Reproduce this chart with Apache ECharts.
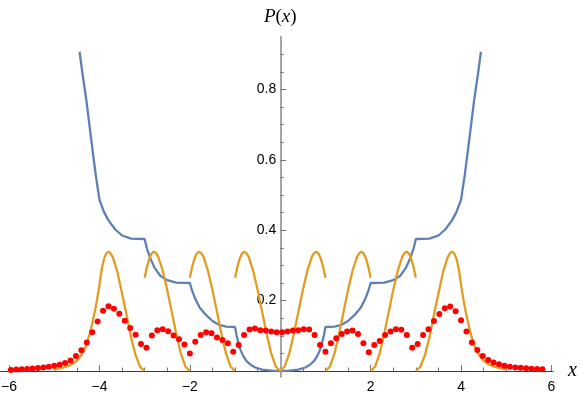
<!DOCTYPE html>
<html>
<head>
<meta charset="utf-8">
<script src="https://cdn.jsdelivr.net/npm/echarts@6/dist/echarts.min.js"></script>
<style>
html,body{margin:0;padding:0;background:#fff;}
#chart{width:581px;height:397px;}
</style>
</head>
<body>
<div id="chart"></div>
<script>
// ---- data ----
const xMajorTicks = [-6, -4, -2, 2, 4, 6];
const xMinorTicks = [-5.5,-5,-4.5,-3.5,-3,-2.5,-1.5,-1,-0.5,0.5,1,1.5,2.5,3,3.5,4.5,5,5.5];
const yMajorTicks = [0.2, 0.4, 0.6, 0.8];
const yMinorTicks = [0.05,0.1,0.15,0.25,0.3,0.35,0.45,0.5,0.55,0.65,0.7,0.75,0.85,0.9];

// blue curve
const blueX = [-4.44,-4.37,-4.29,-4.22,-4.15,-4.08,-4.0,-3.9,-3.8,-3.65,-3.5,-3.3,-3.0,-2.95,-2.88,-2.78,-2.65,-2.5,-2.3,-2.0,-1.95,-1.88,-1.78,-1.65,-1.5,-1.35,-1.2,-1.0,-0.97,-0.93,-0.88,-0.82,-0.75,-0.65,-0.55,-0.4,-0.2,0,
  0.2,0.4,0.55,0.65,0.75,0.82,0.88,0.93,0.97,1.0,1.2,1.35,1.5,1.65,1.78,1.88,1.95,2.0,2.3,2.5,2.65,2.78,2.88,2.95,3.0,3.3,3.5,3.65,3.8,3.9,4.0,4.08,4.15,4.22,4.29,4.37,4.44];
const blueY = [0.907,0.84,0.77,0.697,0.625,0.555,0.487,0.452,0.428,0.402,0.385,0.376,0.375,0.348,0.322,0.293,0.270,0.258,0.251,0.25,0.228,0.205,0.180,0.160,0.142,0.131,0.126,0.125,0.104,0.082,0.060,0.043,0.029,0.017,0.010,0.004,0.001,0,
  0.001,0.004,0.010,0.017,0.029,0.043,0.060,0.082,0.104,0.125,0.126,0.131,0.142,0.160,0.180,0.205,0.228,0.25,0.251,0.258,0.270,0.293,0.322,0.348,0.375,0.376,0.385,0.402,0.428,0.452,0.487,0.555,0.625,0.697,0.77,0.84,0.907];

// orange pieces
const orangeOuterLX = [-5.0,-4.9,-4.8,-4.7,-4.6,-4.5,-4.4,-4.3,-4.2,-4.1,-4.05,-4.0,-3.95,-3.9,-3.85,-3.8,-3.75,-3.7,-3.6,-3.5,-3.4,-3.3,-3.2,-3.1,-3.0];
const orangeOuterLY = [0.005,0.007,0.010,0.014,0.020,0.029,0.045,0.070,0.112,0.170,0.205,0.245,0.290,0.318,0.334,0.339,0.334,0.322,0.280,0.220,0.160,0.095,0.045,0.012,0];
const orangeP2LX = [-3.0,-2.95,-2.9,-2.85,-2.8,-2.75,-2.7,-2.6,-2.5,-2.4,-2.3,-2.2,-2.1,-2.0];
const orangeP2LY = [0.265,0.295,0.318,0.333,0.339,0.335,0.325,0.285,0.23,0.168,0.105,0.05,0.013,0];
const orangeP1LX = [-2.0,-1.95,-1.9,-1.85,-1.8,-1.75,-1.7,-1.6,-1.5,-1.4,-1.3,-1.2,-1.1,-1.0];
const orangeP1LY = [0.265,0.295,0.318,0.333,0.339,0.335,0.325,0.285,0.23,0.168,0.105,0.05,0.013,0];
const orangeCX = [-1.0,-0.95,-0.9,-0.85,-0.8,-0.75,-0.7,-0.6,-0.5,-0.4,-0.3,-0.2,-0.1,0,0.1,0.2,0.3,0.4,0.5,0.6,0.7,0.75,0.8,0.85,0.9,0.95,1.0];
const orangeCY = [0.265,0.295,0.318,0.333,0.339,0.335,0.325,0.285,0.23,0.168,0.105,0.05,0.013,0,0.013,0.05,0.105,0.168,0.23,0.285,0.325,0.335,0.339,0.333,0.318,0.295,0.265];
const orangeP1RX = [1.0,1.1,1.2,1.3,1.4,1.5,1.6,1.7,1.75,1.8,1.85,1.9,1.95,2.0];
const orangeP1RY = [0,0.013,0.05,0.105,0.168,0.23,0.285,0.325,0.335,0.339,0.333,0.318,0.295,0.265];
const orangeP2RX = [2.0,2.1,2.2,2.3,2.4,2.5,2.6,2.7,2.75,2.8,2.85,2.9,2.95,3.0];
const orangeP2RY = [0,0.013,0.05,0.105,0.168,0.23,0.285,0.325,0.335,0.339,0.333,0.318,0.295,0.265];
const orangeOuterRX = [3.0,3.1,3.2,3.3,3.4,3.5,3.6,3.7,3.75,3.8,3.85,3.9,3.95,4.0,4.05,4.1,4.2,4.3,4.4,4.5,4.6,4.7,4.8,4.9,5.0];
const orangeOuterRY = [0,0.012,0.045,0.095,0.160,0.220,0.280,0.322,0.334,0.339,0.334,0.318,0.290,0.245,0.205,0.170,0.112,0.070,0.045,0.029,0.020,0.014,0.010,0.007,0.005];

// red dots
const dotX = [-5.96,-5.84,-5.72,-5.60,-5.48,-5.36,-5.24,-5.12,-5.00,-4.88,-4.76,-4.64,-4.52,-4.40,-4.28,-4.16,-4.04,-3.92,-3.80,-3.68,-3.56,-3.44,-3.32,-3.20,-3.08,-2.96,-2.84,-2.72,-2.60,-2.48,-2.36,-2.24,-2.12,-2.00,-1.88,-1.76,-1.64,-1.52,-1.40,-1.28,-1.16,-1.04,-0.92,-0.80,-0.68,-0.56,-0.44,-0.32,-0.20,-0.08,0.04,0.16,0.28,0.40,0.52,0.64,0.76,0.88,1.00,1.12,1.24,1.36,1.48,1.60,1.72,1.84,1.96,2.08,2.20,2.32,2.44,2.56,2.68,2.80,2.92,3.04,3.16,3.28,3.40,3.52,3.64,3.76,3.88,4.00,4.12,4.24,4.36,4.48,4.60,4.72,4.84,4.96,5.08,5.20,5.32,5.44,5.56,5.68,5.80];
const dotY = [0.003,0.004,0.005,0.006,0.007,0.0085,0.010,0.012,0.015,0.018,0.023,0.030,0.043,0.059,0.081,0.110,0.141,0.171,0.184,0.177,0.163,0.143,0.122,0.103,0.077,0.066,0.101,0.116,0.119,0.113,0.101,0.090,0.075,0.050,0.083,0.102,0.110,0.107,0.095,0.088,0.079,0.055,0.074,0.102,0.118,0.121,0.116,0.115,0.112,0.110,0.110,0.112,0.115,0.116,0.119,0.118,0.102,0.074,0.055,0.079,0.093,0.105,0.112,0.115,0.105,0.079,0.053,0.074,0.085,0.102,0.112,0.119,0.117,0.102,0.066,0.077,0.102,0.119,0.142,0.162,0.178,0.183,0.170,0.144,0.112,0.081,0.060,0.043,0.031,0.024,0.019,0.015,0.012,0.010,0.0095,0.0076,0.0066,0.0057,0.0047];

// ---- chart ----
const zip = (xs, ys) => xs.map((x, i) => [x, ys[i]]);
const X_MIN = -6.2, X_MAX = 6.034, Y_MIN = -0.017, Y_MAX = 0.95;
const GRID_W = 553, GRID_H = 340.4;
// shift the axes so they cross at the origin, like the reference
const Y_AXIS_OFFSET = -GRID_W * (0 - X_MIN) / (X_MAX - X_MIN);
const X_AXIS_OFFSET = -GRID_H * (0 - Y_MIN) / (Y_MAX - Y_MIN);
const BLUE = '#5E81B5', ORANGE = '#E19C24';
const fmtNum = v => (v < 0 ? '\u2212' + Math.abs(v) : String(v));
const labelFont = {fontFamily: 'Liberation Sans, Arial, sans-serif', fontSize: 14, color: '#000'};

const chart = echarts.init(document.getElementById('chart'), null, {renderer: 'canvas'});
const orangePieces = [
  [orangeOuterLX, orangeOuterLY], [orangeP2LX, orangeP2LY], [orangeP1LX, orangeP1LY],
  [orangeCX, orangeCY], [orangeP1RX, orangeP1RY], [orangeP2RX, orangeP2RY], [orangeOuterRX, orangeOuterRY]
];
const series = [{
  type: 'line', xAxisIndex: 0, yAxisIndex: 0, data: zip(blueX, blueY), showSymbol: false,
  lineStyle: {color: BLUE, width: 2.3}, z: 2
}];
orangePieces.forEach(p => series.push({
  type: 'line', xAxisIndex: 0, yAxisIndex: 0, data: zip(p[0], p[1]), showSymbol: false,
  lineStyle: {color: ORANGE, width: 2.3}, z: 3
}));
series.push({
  type: 'scatter', xAxisIndex: 0, yAxisIndex: 0, data: zip(dotX, dotY), symbolSize: 6,
  itemStyle: {color: '#FF0000', opacity: 1}, z: 4
});

chart.setOption({
  animation: false,
  backgroundColor: '#fff',
  grid: {left: 0, top: 36.6, width: GRID_W, height: GRID_H, containLabel: false, outerBoundsMode: 'none'},
  xAxis: [{
    type: 'value', min: X_MIN, max: X_MAX, position: 'bottom', offset: X_AXIS_OFFSET,
    axisLine: {show: true, onZero: false, lineStyle: {color: '#3a3a3a', width: 1}},
    axisTick: {show: true, inside: true, length: 6, customValues: xMajorTicks, lineStyle: {color: '#777'}},
    axisLabel: Object.assign({customValues: xMajorTicks, formatter: fmtNum, margin: 9}, labelFont),
    splitLine: {show: false},
    name: 'x', nameLocation: 'end', nameGap: 15,
    nameTextStyle: {fontFamily: 'Liberation Serif, serif', fontStyle: 'italic', fontSize: 20, color: '#000', verticalAlign: 'middle'}
  }, {
    type: 'value', min: X_MIN, max: X_MAX, position: 'bottom', offset: X_AXIS_OFFSET,
    axisLine: {show: false, onZero: false},
    axisTick: {show: true, inside: true, length: 3.5, customValues: xMinorTicks, lineStyle: {color: '#777'}},
    axisLabel: {show: false}, splitLine: {show: false}
  }],
  yAxis: [{
    type: 'value', min: Y_MIN, max: Y_MAX, position: 'left', offset: Y_AXIS_OFFSET,
    axisLine: {show: true, onZero: false, lineStyle: {color: '#888', width: 1.5}},
    axisTick: {show: true, inside: true, length: 6, customValues: yMajorTicks, lineStyle: {color: '#777'}},
    axisLabel: Object.assign({customValues: yMajorTicks, formatter: v => v.toFixed(1), margin: 4}, labelFont),
    splitLine: {show: false},
    name: '{i|P}{n|(}{i|x}{n|)}', nameLocation: 'end', nameGap: 10,
    nameTextStyle: {align: 'center', verticalAlign: 'bottom', rich: {
      i: {fontFamily: 'Liberation Serif, serif', fontStyle: 'italic', fontSize: 19, color: '#000'},
      n: {fontFamily: 'Liberation Serif, serif', fontSize: 19, color: '#000'}
    }}
  }, {
    type: 'value', min: Y_MIN, max: Y_MAX, position: 'left', offset: Y_AXIS_OFFSET,
    axisLine: {show: false, onZero: false},
    axisTick: {show: true, inside: true, length: 3.5, customValues: yMinorTicks, lineStyle: {color: '#777'}},
    axisLabel: {show: false}, splitLine: {show: false}
  }],
  series: series
});
</script>
</body>
</html>
